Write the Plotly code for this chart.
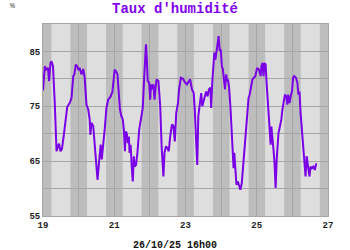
import plotly.graph_objects as go

# Data (day of month, humidity %)
days = [19.00, 19.05, 19.09, 19.14, 19.17, 19.21, 19.24, 19.28, 19.33, 19.38, 19.42, 19.45, 19.49, 19.53,
        19.58, 19.64, 19.68, 19.75, 19.80, 19.85, 19.88, 19.92, 19.96, 20.00, 20.03, 20.08, 20.13, 20.17,
        20.22, 20.27, 20.31, 20.33, 20.36, 20.41, 20.46, 20.50, 20.53, 20.58, 20.62, 20.65, 20.69, 20.74,
        20.78, 20.83, 20.90, 20.95, 21.01, 21.05, 21.09, 21.12, 21.16, 21.20, 21.24, 21.27, 21.30, 21.32,
        21.35, 21.38, 21.41, 21.43, 21.46, 21.49, 21.52, 21.55, 21.57, 21.61, 21.65, 21.70, 21.75, 21.80,
        21.84, 21.87, 21.89, 21.91, 21.94, 21.98, 22.01, 22.03, 22.06, 22.10, 22.13, 22.17, 22.19, 22.24,
        22.29, 22.33, 22.36, 22.38, 22.41, 22.45, 22.49, 22.53, 22.57, 22.62, 22.66, 22.70, 22.74, 22.79,
        22.82, 22.87, 22.93, 22.99, 23.04, 23.09, 23.13, 23.18, 23.23, 23.26, 23.30, 23.33, 23.36, 23.39,
        23.41, 23.44, 23.47, 23.51, 23.55, 23.58, 23.62, 23.66, 23.70, 23.72, 23.75, 23.78, 23.81, 23.84,
        23.87, 23.91, 23.93, 23.96, 23.99, 24.02, 24.05, 24.08, 24.11, 24.14, 24.17, 24.19, 24.22, 24.26,
        24.30, 24.33, 24.35, 24.37, 24.40, 24.43, 24.47, 24.50, 24.54, 24.58, 24.62, 24.65, 24.69, 24.73,
        24.77, 24.80, 24.84, 24.88, 24.92, 24.96, 25.01, 25.06, 25.11, 25.13, 25.16, 25.19, 25.22, 25.25,
        25.27, 25.31, 25.35, 25.39, 25.41, 25.44, 25.47, 25.50, 25.53, 25.56, 25.58, 25.61, 25.65, 25.69,
        25.72, 25.75, 25.79, 25.83, 25.86, 25.88, 25.92, 25.96, 25.99, 26.02, 26.05, 26.10, 26.14, 26.17,
        26.20, 26.23, 26.27, 26.31, 26.34, 26.37, 26.40, 26.44, 26.48, 26.51, 26.55, 26.59, 26.63, 26.67]
humidity = [77.9, 82.3, 81.7, 82.0, 79.6, 82.9, 83.2, 82.3, 75.6, 66.8, 67.7, 68.2, 66.8, 67.2,
            69.5, 72.6, 74.9, 75.6, 76.5, 80.5, 80.8, 82.6, 82.3, 81.6, 82.0, 80.8, 81.8, 80.2,
            75.3, 74.4, 72.6, 69.8, 72.0, 71.4, 66.5, 63.4, 61.6, 65.3, 68.0, 65.3, 67.7, 71.4,
            74.7, 76.2, 76.8, 77.7, 81.7, 81.4, 80.8, 77.7, 74.4, 73.2, 72.6, 70.7, 66.8, 70.4,
            70.1, 68.3, 69.5, 66.5, 68.0, 64.0, 61.3, 65.9, 64.0, 64.3, 66.5, 70.7, 72.9, 74.7,
            80.2, 84.1, 86.3, 84.1, 79.6, 79.3, 76.2, 79.0, 78.1, 79.0, 76.2, 79.0, 79.9, 79.6,
            75.0, 67.7, 65.3, 62.2, 66.5, 67.7, 67.4, 66.8, 69.5, 71.7, 71.4, 68.6, 73.8, 75.6,
            78.1, 80.2, 80.0, 79.3, 79.0, 79.6, 79.9, 78.1, 77.4, 74.4, 69.5, 64.3, 73.2, 74.7,
            75.9, 77.4, 75.0, 75.9, 77.1, 77.7, 76.8, 78.1, 78.4, 74.7, 79.3, 83.5, 84.8, 83.5,
            85.1, 86.3, 87.8, 85.1, 85.4, 82.3, 81.7, 79.9, 78.1, 80.8, 79.6, 79.9, 78.7, 75.0,
            70.7, 66.5, 63.7, 66.5, 62.2, 60.7, 61.3, 60.4, 59.8, 61.0, 64.6, 67.1, 70.1, 73.8,
            76.5, 77.1, 78.7, 79.9, 80.2, 80.5, 82.0, 81.7, 80.5, 82.3, 82.9, 80.5, 82.9, 82.6,
            79.9, 75.6, 71.3, 68.0, 71.3, 69.5, 67.1, 64.6, 60.1, 65.3, 68.3, 70.1, 71.3, 72.6,
            74.4, 75.9, 77.1, 76.8, 75.3, 77.1, 75.6, 77.1, 77.7, 80.2, 80.5, 80.2, 79.3, 77.1,
            77.7, 73.8, 70.1, 67.7, 65.3, 62.2, 65.9, 64.0, 62.2, 64.0, 63.7, 64.0, 63.4, 64.6]

day_starts = [19, 20, 21, 22, 23, 24, 25, 26]
x_tick_vals = [19, 21, 23, 25, 27]
y_tick_vals = [55, 65, 75, 85]
title_text = "Taux d'humidité"
unit_text = "%"
stamp_text = "26/10/25 16h00"

LIGHT_START, LIGHT_END = 0.235, 0.77
mono = "Liberation Mono"

fig = go.Figure()
fig.add_trace(go.Scatter(x=days, y=humidity, mode="lines",
                         line=dict(color="#7A00E6", width=2), hoverinfo="skip"))

shapes = []
for d in day_starts:
    shapes.append(dict(type="rect", xref="x", yref="paper", x0=d + LIGHT_START, x1=d + LIGHT_END,
                       y0=0, y1=1, fillcolor="#DEDEDE", line=dict(width=0), layer="below"))

fig.update_layout(
    width=350, height=250,
    margin=dict(l=43, r=22, t=24, b=34),
    paper_bgcolor="white", plot_bgcolor="#BDBDBD",
    showlegend=False,
    shapes=shapes,
    title=dict(text=title_text, x=0.5, xanchor="center", xref="container",
               y=1 - 8 / 250, yanchor="middle",
               font=dict(family=mono, size=14, color="#8000EE", weight="bold")),
    annotations=[
        dict(text=unit_text, xref="paper", yref="paper", x=(12 - 43) / 285, y=(216 - 5) / 192,
             xanchor="center", yanchor="middle", showarrow=False,
             font=dict(family=mono, size=8, color="#444444")),
        dict(text=stamp_text, xref="paper", yref="paper", x=(175 - 43) / 285, y=(216 - 245) / 192,
             xanchor="center", yanchor="middle", showarrow=False,
             font=dict(family=mono, size=10, color="#111111", weight="bold")),
    ],
)
fig.update_xaxes(range=[19, 27], tickvals=x_tick_vals, ticktext=[str(v) for v in x_tick_vals],
                 showgrid=True, gridcolor="#A6A6A6", gridwidth=1,
                 minor=dict(dtick=1, tick0=19, showgrid=True, gridcolor="#A6A6A6", gridwidth=1),
                 showline=True, mirror=True, linecolor="#A6A6A6", linewidth=1,
                 ticks="", zeroline=False,
                 tickfont=dict(family=mono, size=9, color="#222222", weight="bold"))
fig.update_yaxes(range=[55, 90], tickvals=y_tick_vals, ticktext=[str(v) for v in y_tick_vals],
                 showgrid=True, gridcolor="#A6A6A6", gridwidth=1,
                 minor=dict(dtick=5, tick0=55, showgrid=True, gridcolor="#A6A6A6", gridwidth=1),
                 showline=True, mirror=True, linecolor="#A6A6A6", linewidth=1,
                 ticks="", zeroline=False,
                 tickfont=dict(family=mono, size=9, color="#222222", weight="bold"))

fig.write_html("out.html")
